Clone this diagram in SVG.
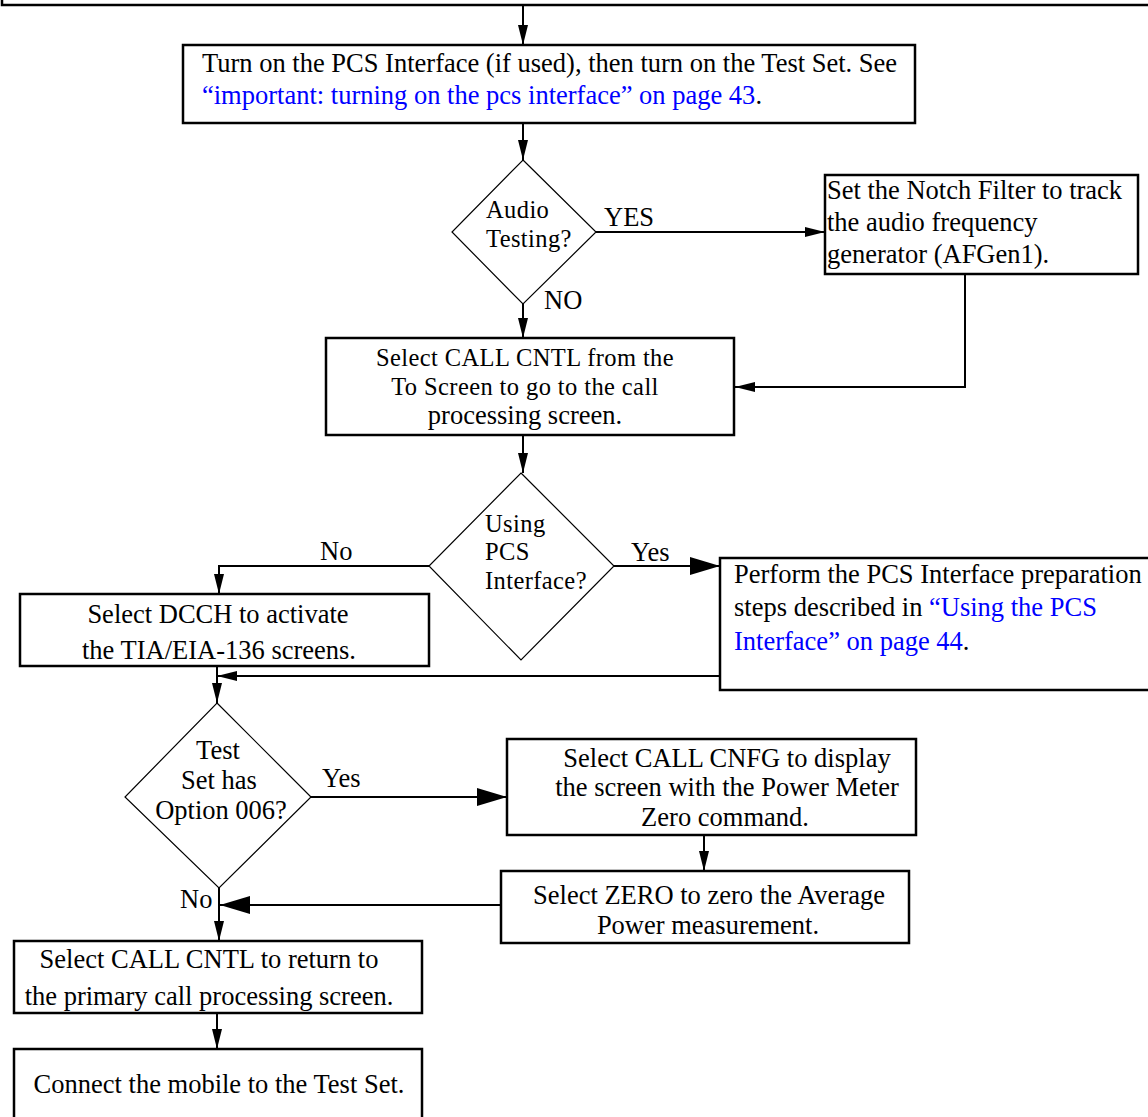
<svg xmlns="http://www.w3.org/2000/svg" width="1148" height="1117" viewBox="0 0 1148 1117">
<defs>
<style>
.box{fill:#fff;stroke:#000;stroke-width:2.5}
.dia{fill:#fff;stroke:#000;stroke-width:1.2}
.ln{fill:none;stroke:#000;stroke-width:2}
text{font-family:"Liberation Serif","Times New Roman",serif;font-size:26.5px;fill:#000}
.t{font-size:24.5px;letter-spacing:0.4px}
.c{text-anchor:middle}
.link{fill:#0000ff}
</style>
<marker id="a" viewBox="0 0 20 10" refX="20" refY="5" markerWidth="20" markerHeight="10" markerUnits="userSpaceOnUse" orient="auto"><path d="M0,0 L20,5 L0,10 Z" fill="#000"/></marker>
<marker id="b" viewBox="0 0 30 18" refX="30" refY="9" markerWidth="30" markerHeight="18" markerUnits="userSpaceOnUse" orient="auto"><path d="M0,0 L30,9 L0,18 Z" fill="#000"/></marker>
</defs>
<g id="connectors">
<line class="ln" x1="523" y1="6" x2="523" y2="45" marker-end="url(#a)"/>
<line class="ln" x1="523" y1="123" x2="523" y2="160" marker-end="url(#a)"/>
<line class="ln" x1="596" y1="232" x2="825" y2="232" marker-end="url(#a)"/>
<polyline class="ln" points="965,274 965,387 735,387" marker-end="url(#a)"/>
<line class="ln" x1="523" y1="304" x2="523" y2="338" marker-end="url(#a)"/>
<line class="ln" x1="523" y1="435" x2="523" y2="473" marker-end="url(#a)"/>
<polyline class="ln" points="429,566 219,566 219,594" marker-end="url(#a)"/>
<line class="ln" x1="614" y1="566" x2="720" y2="566" marker-end="url(#b)"/>
<line class="ln" x1="217" y1="666" x2="217" y2="703" marker-end="url(#a)"/>
<line class="ln" x1="720" y1="676" x2="217" y2="676" marker-end="url(#a)"/>
<line class="ln" x1="311" y1="797" x2="507" y2="797" marker-end="url(#b)"/>
<line class="ln" x1="704" y1="835" x2="704" y2="871" marker-end="url(#a)"/>
<line class="ln" x1="501" y1="905" x2="220" y2="905" marker-end="url(#b)"/>
<line class="ln" x1="219" y1="888" x2="219" y2="941" marker-end="url(#a)"/>
<line class="ln" x1="217" y1="1013" x2="217" y2="1049" marker-end="url(#a)"/>
</g>
<g id="top">
<rect class="box" x="2" y="-20" width="1160" height="25"/>
</g>
<g id="turn-on">
<rect class="box" x="183" y="45" width="732" height="78"/>
<text x="202" y="72">Turn on the PCS Interface (if used), then turn on the Test Set. See</text>
<text x="202" y="104"><tspan class="link">“important: turning on the pcs interface” on page 43</tspan>.</text>
</g>
<g id="audio">
<polygon class="dia" points="523,160 596,232 523,304 452,232"/>
<text class="t" x="486" y="218">Audio</text>
<text class="t" x="486" y="247">Testing?</text>
<text x="604" y="226">YES</text>
<text x="544" y="309">NO</text>
</g>
<g id="notch">
<rect class="box" x="825" y="175" width="313" height="99"/>
<text x="827" y="199">Set the Notch Filter to track</text>
<text x="827" y="231">the audio frequency</text>
<text x="827" y="263">generator (AFGen1).</text>
</g>
<g id="call-cntl">
<rect class="box" x="326" y="338" width="408" height="97"/>
<text class="c t" x="525" y="366">Select CALL CNTL from the</text>
<text class="c t" x="525" y="395">To Screen to go to the call</text>
<text class="c" x="525" y="424">processing screen.</text>
</g>
<g id="using-pcs">
<polygon class="dia" points="521,473 614,566 521,660 429,566"/>
<text class="t" x="485" y="532">Using</text>
<text class="t" x="485" y="560">PCS</text>
<text class="t" x="485" y="589">Interface?</text>
<text x="320" y="560">No</text>
<text x="631" y="561">Yes</text>
</g>
<g id="perform">
<rect class="box" x="720" y="558" width="440" height="132"/>
<text x="734" y="583">Perform the PCS Interface preparation</text>
<text x="734" y="616">steps described in <tspan class="link">“Using the PCS</tspan></text>
<text x="734" y="650"><tspan class="link">Interface” on page 44</tspan>.</text>
</g>
<g id="dcch">
<rect class="box" x="20" y="594" width="409" height="72"/>
<text class="c" x="218" y="623">Select DCCH to activate</text>
<text class="c" x="219" y="659">the TIA/EIA-136 screens.</text>
</g>
<g id="option006">
<polygon class="dia" points="217,703 311,797 219,888 125,797"/>
<text class="c" x="218" y="759">Test</text>
<text class="c" x="219" y="789">Set has</text>
<text class="c" x="221" y="819">Option 006?</text>
<text x="322" y="787">Yes</text>
<text x="180" y="908">No</text>
</g>
<g id="call-cnfg">
<rect class="box" x="507" y="739" width="409" height="96"/>
<text class="c" x="727" y="767">Select CALL CNFG to display</text>
<text class="c" x="727" y="796">the screen with the Power Meter</text>
<text class="c" x="725" y="826">Zero command.</text>
</g>
<g id="zero">
<rect class="box" x="501" y="871" width="408" height="72"/>
<text class="c" x="709" y="904">Select ZERO to zero the Average</text>
<text class="c" x="708" y="934">Power measurement.</text>
</g>
<g id="return">
<rect class="box" x="14" y="941" width="408" height="72"/>
<text class="c" x="209" y="968">Select CALL CNTL to return to</text>
<text class="c" x="209" y="1005">the primary call processing screen.</text>
</g>
<g id="connect">
<rect class="box" x="14" y="1049" width="408" height="90"/>
<text class="c" x="219" y="1093">Connect the mobile to the Test Set.</text>
</g>
</svg>
